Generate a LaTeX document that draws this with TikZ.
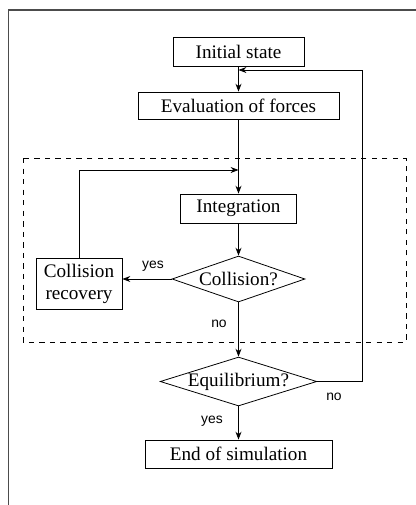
\documentclass[tikz,border=0pt]{standalone}
\usepackage{fontspec}
\setmainfont{Liberation Serif}
\setsansfont{Liberation Sans}
\usetikzlibrary{shapes.geometric,arrows.meta}

\begin{document}
\begin{tikzpicture}[x=0.02cm, y=-0.02cm, >={Stealth[length=4.5pt,width=3.4pt]}, line width=0.45pt,
		font=\fontsize{10.9}{12.5}\selectfont,
		stepbox/.style={draw, rectangle, inner sep=0pt, align=center},
		testbox/.style={draw, diamond, inner sep=0pt},
		lbl/.style={font=\sffamily\fontsize{7.9}{9}\selectfont, inner sep=0pt}]
		\useasboundingbox (0,0) rectangle (416,505);
		% page frame (only top and left edge are visible)
		\draw[gray!60!black, line width=0.9pt] (8.5,505) -- (8.5,10) -- (416,10);
		% main chain of steps
		\node[stepbox, minimum width=2.62cm, minimum height=0.58cm] (init) at (238.5,51.5) {Initial state};
		\node[stepbox, minimum width=4.02cm, minimum height=0.54cm] (eval) at (238.5,105.5) {Evaluation of forces};
		\node[stepbox, minimum width=2.32cm, minimum height=0.58cm] (integ) at (238.5,208.5) {Integration};
		\node[testbox, aspect=2.9, minimum width=2.66cm, minimum height=0.92cm] (coll) at (238.5,279) {Collision?};
		\node[stepbox, minimum width=1.72cm, minimum height=1.02cm] (recov) at (79,283.5) {Collision\\recovery};
		\node[testbox, aspect=3.2, minimum width=3.06cm, minimum height=0.94cm] (equil) at (238.5,381.5) {Equilibrium?};
		\node[stepbox, minimum width=3.74cm, minimum height=0.56cm] (end) at (238.5,454) {End of simulation};
		% inner loop frame
		\draw[dashed, line width=0.4pt] (23,158) rectangle (406,342);
		% join points of the two loops
		\coordinate (joinA) at (238.5,70);
		\coordinate (joinB) at (238.5,170);
		\draw[->] (init) -- (eval);
		\draw[->] (eval) -- (integ);
		\draw[->] (integ) -- (coll);
		\draw[->] (coll.west) -- (coll.west -| recov.east);
		\draw[->] (recov.north) |- (joinB);
		\draw[->] (coll) -- (equil);
		\draw[->] (equil) -- (end);
		\draw[->] (equil.east) -- (362,381.5) |- (joinA);
		% branch labels
		\node[lbl, anchor=base] (yesA) at (153,268) {yes};
		\node[lbl, anchor=base] (noA) at (219,327.5) {no};
		\node[lbl, anchor=base] (noB) at (334,400.5) {no};
		\node[lbl, anchor=base] (yesB) at (212,423.5) {yes};
	\end{tikzpicture}
\end{document}
